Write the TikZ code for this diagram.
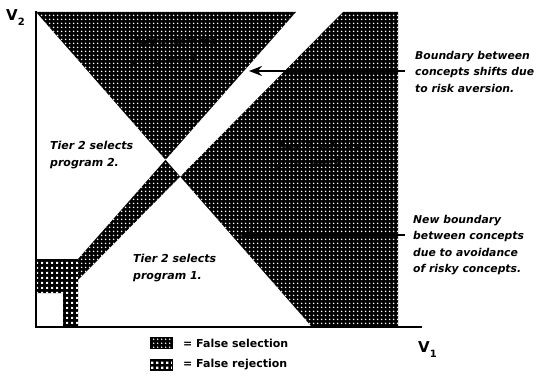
\documentclass[tikz,border=0pt]{standalone}
\usepackage{fontspec}
\setmainfont{DejaVu Sans}
\usetikzlibrary{patterns,arrows.meta}
\pgfdeclarepatternformonly{seldots}{\pgfqpoint{0pt}{0pt}}{\pgfqpoint{4pt}{4pt}}{\pgfqpoint{4pt}{4pt}}{\pgfpathcircle{\pgfqpoint{2pt}{2pt}}{1pt}\pgfusepath{fill}}
\pgfdeclarepatternformonly{rejsquares}{\pgfqpoint{0pt}{0pt}}{\pgfqpoint{5pt}{5pt}}{\pgfqpoint{5pt}{5pt}}{\pgfpathrectangle{\pgfqpoint{1.2pt}{1.2pt}}{\pgfqpoint{2.6pt}{2.6pt}}\pgfusepath{fill}}
\begin{document}
\begin{tikzpicture}[x=1pt,y=-1pt,
  falsesel/.style={preaction={fill=black}, pattern=seldots, pattern color=white},
  falserej/.style={preaction={fill=black}, pattern=rejsquares, pattern color=white},
  axisline/.style={line width=2pt, line cap=rect},
  pointer/.style={line width=2.8pt, -{Stealth[length=13pt,width=10pt]}},
  inner/.style={font=\fontsize{11}{17}\selectfont\bfseries\itshape, align=left, anchor=north west, inner sep=0pt},
  note/.style={font=\fontsize{10.8}{16.5}\selectfont\bfseries\itshape, align=left, anchor=north west, inner sep=0pt},
  legendbox/.style={draw=black, line width=0.8pt, minimum width=22pt, minimum height=11pt, inner sep=0pt},
  legendtext/.style={font=\fontsize{11}{13}\selectfont\bfseries, anchor=west, inner sep=0pt},
  axlabel/.style={font=\fontsize{15}{15}\selectfont\bfseries, anchor=north west, inner sep=0pt}]
\useasboundingbox (0,0) rectangle (536,385);
% regions
\fill[falsesel] (36,12) -- (296,12) -- (165.5,159.8) -- cycle;
\fill[falsesel] (343,12) -- (398,12) -- (398,327) -- (312,327) -- (180.2,176.6) -- cycle;
\fill[falsesel] (165.5,159.8) -- (180.2,176.6) -- (78,280) -- (78,259) -- cycle;
\fill[falserej] (36,259) -- (78,259) -- (78,327) -- (63,327) -- (63,293) -- (36,293) -- cycle;
% axes
\coordinate (ytop) at (36,12);
\coordinate (origin) at (36,327);
\coordinate (xend) at (421,327);
\draw[axisline] (ytop) -- (origin) -- (xend);
\node[axlabel] (v2) at (6,9) {V\raisebox{-5pt}{\fontsize{10}{10}\selectfont 2}};
\node[axlabel] (v1) at (418,341) {V\raisebox{-5pt}{\fontsize{10}{10}\selectfont 1}};
% region texts
\node[inner] (t1) at (133,37) {Tier 2 selects\\program 1.};
\node[inner] (t2) at (277,142) {Tier 2 selects\\program 2.};
\node[inner] (w2) at (50,141) {Tier 2 selects\\program 2.};
\node[inner] (w1) at (133,254) {Tier 2 selects\\program 1.};
% notes and arrows
\node[note] (n1) at (415,51) {Boundary between\\concepts shifts due\\to risk aversion.};
\node[note] (n2) at (413,215) {New boundary\\between concepts\\due to avoidance\\of risky concepts.};
\coordinate (a1s) at (405,71);
\coordinate (a1e) at (249,71);
\coordinate (a2s) at (405,235);
\coordinate (a2e) at (240,235);
\draw[pointer] (a1s) -- (a1e);
\draw[pointer] (a2s) -- (a2e);
% legend
\node[legendbox, falsesel] (lb1) at (161,343) {};
\node[legendtext] (lt1) at (183,343) {= False selection};
\node[legendbox, falserej] (lb2) at (161,365) {};
\node[legendtext] (lt2) at (183,365) {= False rejection};
\end{tikzpicture}
\end{document}
